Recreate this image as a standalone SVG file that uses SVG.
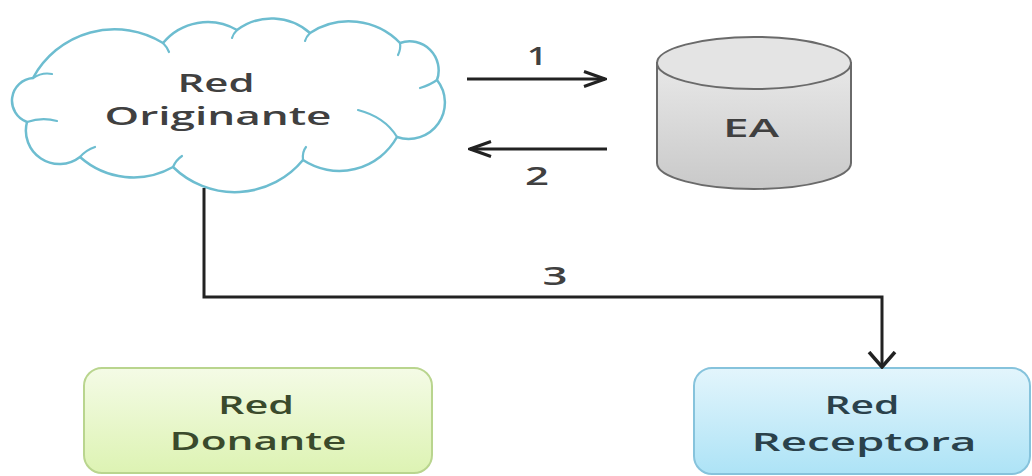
<svg xmlns="http://www.w3.org/2000/svg" width="1032" height="476" viewBox="0 0 1032 476">
  <style>
    .lbl { font-family: "Open Sans", "Liberation Sans", sans-serif; font-size: 26px; font-weight: 600; text-anchor: middle; fill: #404040; }
    .don { fill: #3a4a2c; }
    .rec { fill: #2a414b; }
    .conn { fill: none; stroke: #222222; stroke-width: 3; }
    .cloud { fill: #ffffff; stroke: #6dbdd0; stroke-width: 2.5; stroke-linejoin: round; }
    .inner { fill: none; stroke: #6dbdd0; stroke-width: 2.2; stroke-linecap: round; }
  </style>
  <defs>
    <marker id="ah" viewBox="0 0 24 18" refX="22" refY="9" markerWidth="24" markerHeight="18" markerUnits="userSpaceOnUse" orient="auto">
      <path d="M1,1.5 L22,9 L1,16.5" fill="none" stroke="#222222" stroke-width="3"/>
    </marker>
    <marker id="av" viewBox="0 0 18 30" refX="16" refY="15" markerWidth="18" markerHeight="30" markerUnits="userSpaceOnUse" orient="auto">
      <path d="M1,2 L16,15 L1,28" fill="none" stroke="#222222" stroke-width="3.5"/>
    </marker>
    <linearGradient id="gCyl" x1="0" y1="0" x2="0" y2="1">
      <stop offset="0" stop-color="#e8e8e8"/>
      <stop offset="1" stop-color="#c9c9c9"/>
    </linearGradient>
    <linearGradient id="gDon" x1="0" y1="0" x2="0" y2="1">
      <stop offset="0" stop-color="#f4fbe6"/>
      <stop offset="1" stop-color="#ddf3b3"/>
    </linearGradient>
    <linearGradient id="gRec" x1="0" y1="0" x2="0" y2="1">
      <stop offset="0" stop-color="#e3f5fc"/>
      <stop offset="1" stop-color="#ade3f6"/>
    </linearGradient>
  </defs>

  <rect x="0" y="0" width="1032" height="476" fill="#ffffff"/>

  <g id="red-originante">
    <path class="cloud" d="M27,122 A22.7,22.7 0 0 1 33,78 A92.6,92.6 0 0 1 163,43 A58,58 0 0 1 237,30 A57.7,57.7 0 0 1 310,33 A71,71 0 0 1 400,43 A29,29 0 0 1 437,80 A36.3,36.3 0 0 1 397,137 A66,66 0 0 1 303,160 A88.4,88.4 0 0 1 173,167 A80.5,80.5 0 0 1 80,157 A33.5,33.5 0 0 1 27,122 Z"/>
    <path class="inner" d="M33,78 Q42,72 52,74"/>
    <path class="inner" d="M163,43 Q167,47 169,52"/>
    <path class="inner" d="M237,30 Q233,34 232,38"/>
    <path class="inner" d="M310,33 Q306,37 305,41"/>
    <path class="inner" d="M400,43 Q401,49 398,55"/>
    <path class="inner" d="M437,80 Q430,85 420,88"/>
    <path class="inner" d="M397,137 Q385,117 358,110"/>
    <path class="inner" d="M303,160 Q302,152 306,147"/>
    <path class="inner" d="M173,167 Q176,160 182,156"/>
    <path class="inner" d="M80,157 Q86,150 95,147"/>
    <path class="inner" d="M27,122 Q42,117 57,121"/>
    <text class="lbl" x="216" y="92" textLength="77" lengthAdjust="spacingAndGlyphs">Red</text>
    <text class="lbl" x="218" y="125" textLength="227" lengthAdjust="spacingAndGlyphs">Originante</text>
  </g>

  <g id="ea">
    <path d="M657,63 L657,163 A97,26 0 0 0 851,163 L851,63 Z" fill="url(#gCyl)" stroke="#6a6a6a" stroke-width="2"/>
    <ellipse cx="754" cy="63" rx="97" ry="26" fill="#e4e4e4" stroke="#6a6a6a" stroke-width="2"/>
    <text class="lbl" x="751" y="137" textLength="56" lengthAdjust="spacingAndGlyphs">EA</text>
  </g>

  <g id="red-donante">
    <rect x="84" y="368" width="348" height="105" rx="18" ry="18" fill="url(#gDon)" stroke="#b9d58e" stroke-width="2"/>
    <text class="lbl don" x="256" y="414" textLength="76" lengthAdjust="spacingAndGlyphs">Red</text>
    <text class="lbl don" x="258" y="450" textLength="177" lengthAdjust="spacingAndGlyphs">Donante</text>
  </g>

  <g id="red-receptora">
    <rect x="694" y="368" width="336" height="106" rx="18" ry="18" fill="url(#gRec)" stroke="#86c3dc" stroke-width="2"/>
    <text class="lbl rec" x="862" y="414" textLength="75" lengthAdjust="spacingAndGlyphs">Red</text>
    <text class="lbl rec" x="864" y="451" textLength="225" lengthAdjust="spacingAndGlyphs">Receptora</text>
  </g>

  <g id="connectors">
    <line class="conn" x1="467" y1="79" x2="605" y2="79" marker-end="url(#ah)"/>
    <text class="lbl" x="537" y="65" textLength="20" lengthAdjust="spacingAndGlyphs">1</text>
    <line class="conn" x1="607" y1="149" x2="470" y2="149" marker-end="url(#ah)"/>
    <text class="lbl" x="537" y="185" textLength="24" lengthAdjust="spacingAndGlyphs">2</text>
    <path class="conn" d="M204,188 V297 H882 V367" marker-end="url(#av)"/>
    <text class="lbl" x="555" y="285" textLength="25" lengthAdjust="spacingAndGlyphs">3</text>
  </g>
</svg>
